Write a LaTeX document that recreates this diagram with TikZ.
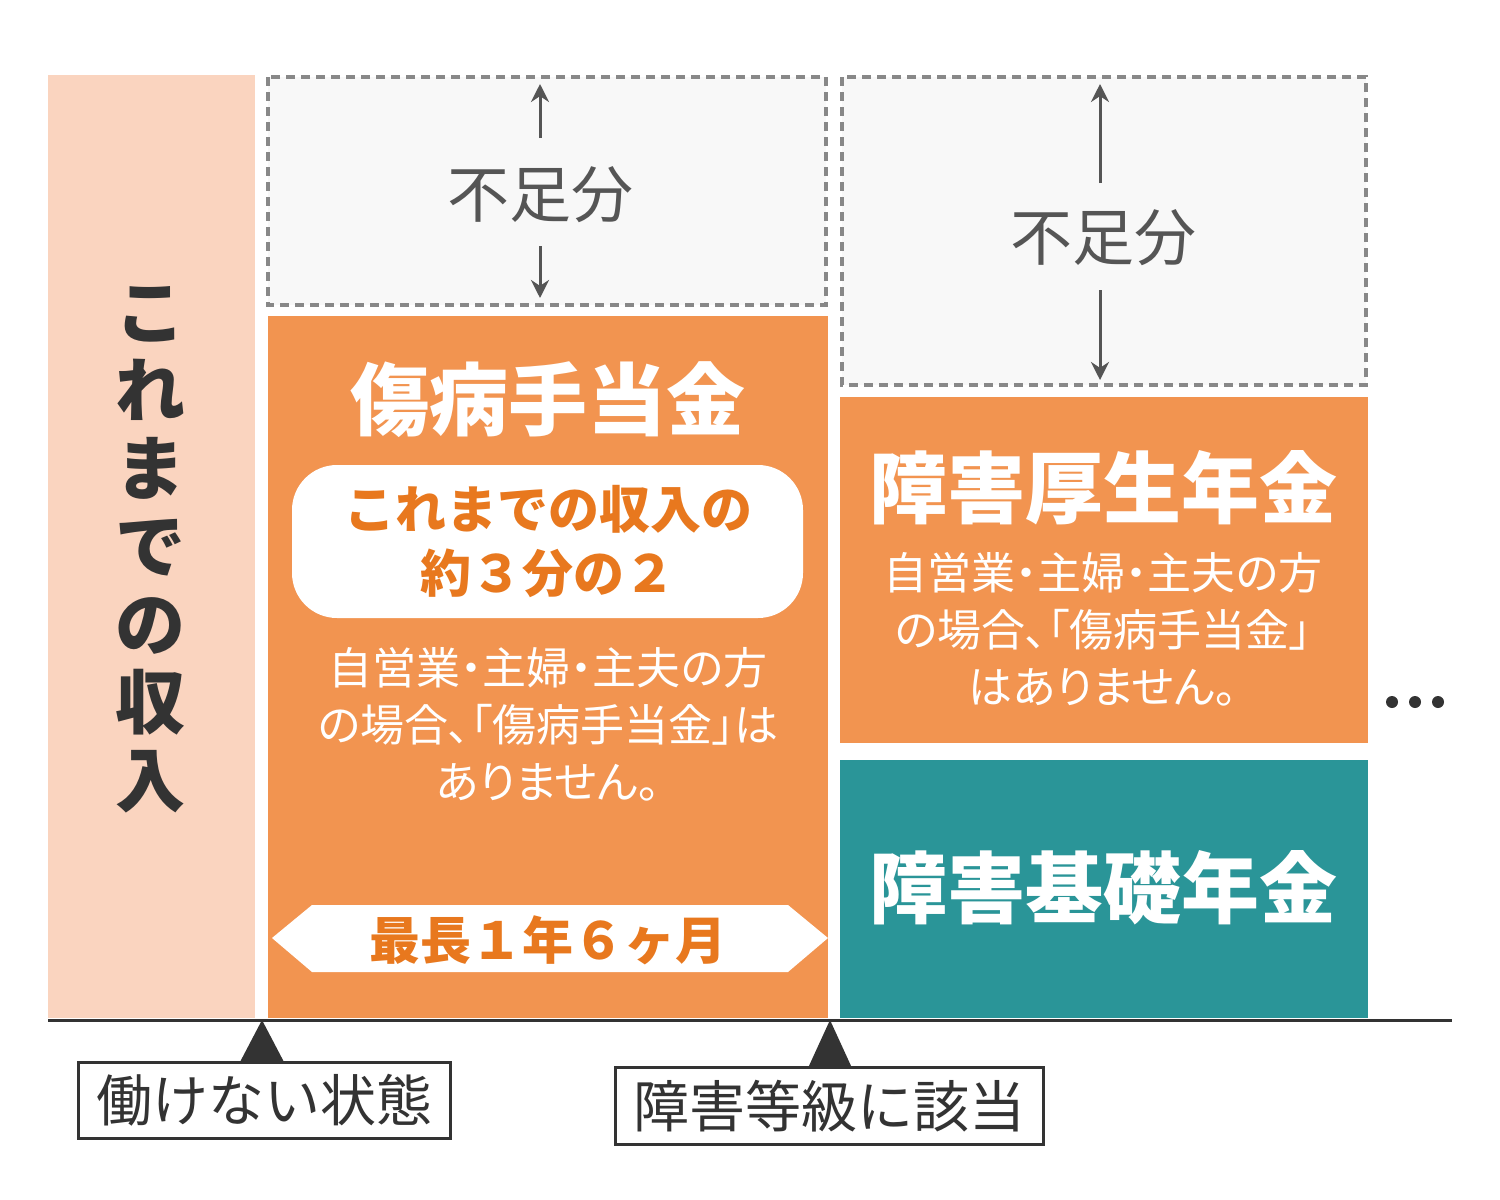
\documentclass[tikz,border=0pt]{standalone}
\usepackage{fontspec}
\setmainfont{Noto Sans CJK JP}
\newfontfamily\paltfont[RawFeature=+palt]{Noto Sans CJK JP}
\usetikzlibrary{arrows.meta}
\definecolor{pinkc}{HTML}{FAD4BF}
\definecolor{orng}{HTML}{F29450}
\definecolor{orngt}{HTML}{E8781E}
\definecolor{tealc}{HTML}{2A9598}
\definecolor{dark}{HTML}{333333}
\definecolor{grayt}{HTML}{555555}
\definecolor{bgg}{HTML}{F8F8F8}
\definecolor{dashc}{HTML}{888888}
\tikzset{
 dbox/.style={draw=dashc,dash pattern=on 9pt off 6pt,line width=3.2pt,fill=bgg},
 fs/.style 2 args={font=\fontsize{#1}{#2}\selectfont},
 pfs/.style 2 args={font=\paltfont\fontsize{#1}{#2}\selectfont},
 arr/.style={-{Stealth[length=18pt,width=18pt]},line width=3pt,draw=grayt},
 lbl/.style={draw=dark,line width=3pt,fill=white,text=dark,inner sep=0pt}
}
\begin{document}
\begin{tikzpicture}[x=1pt,y=-1pt]
\useasboundingbox (0,0) rectangle (1500,1200);
\fill[white] (0,0) rectangle (1500,1200);
% left
\fill[pinkc] (48,75) rectangle (255,1018);
\node[text=dark,align=center,font=\bfseries\fontsize{70}{78}\selectfont] (v) at (150,550) {こ\\れ\\ま\\で\\の\\収\\入};
% dashed boxes
\draw[dbox] (268,77) rectangle (826,305);
\node[text=grayt,fs={62}{70}] (f1) at (540,195) {不足分};
\coordinate (f1t) at (540,84); \coordinate (f1b) at (540,298);
\draw[arr] (540,138) -- (f1t); \draw[arr] (540,246) -- (f1b);
\draw[dbox] (842,77) rectangle (1366,385);
\node[text=grayt,fs={62}{70}] (f2) at (1103,238) {不足分};
\coordinate (f2t) at (1100,84); \coordinate (f2b) at (1100,380);
\draw[arr] (1100,183) -- (f2t); \draw[arr] (1100,290) -- (f2b);
% orange 1
\fill[orng] (268,316) rectangle (828,1018);
\node[text=white,font=\bfseries\fontsize{79}{90}\selectfont] (t1) at (548,400) {傷病手当金};
\fill[white,rounded corners=45pt] (292,465) rectangle (803,618);
\node[text=orngt,align=center,font=\bfseries\fontsize{51}{64}\selectfont] (r1) at (548,542) {これまでの収入の\\約３分の２};
\node[text=white,align=center,pfs={44}{57}] (s1) at (548,724) {自営業・主婦・主夫の方\\の場合、「傷病手当金」は\\ありません。};
\fill[white] (272,938) -- (312,905) -- (788,905) -- (828,938) -- (788,972) -- (312,972) -- cycle;
\node[text=orngt,font=\bfseries\fontsize{51}{56}\selectfont] (b1) at (548,940) {最長１年６ヶ月};
% orange 2
\fill[orng] (840,397) rectangle (1368,743);
\node[text=white,font=\bfseries\fontsize{78}{90}\selectfont] (t2) at (1103,488) {障害厚生年金};
\node[text=white,align=center,pfs={44}{57}] (s2) at (1103,629) {自営業・主婦・主夫の方\\の場合、「傷病手当金」\\はありません。};
% teal
\fill[tealc] (840,760) rectangle (1368,1018);
\node[text=white,font=\bfseries\fontsize{78}{90}\selectfont] (t3) at (1103,888) {障害基礎年金};
% dots
\foreach \x in {1392,1415,1438} \fill[dark] (\x,702) circle (6pt);
% baseline
\draw[dark,line width=3pt] (48,1020) -- (1452,1020);
\fill[dark] (262,1020) -- (240,1062) -- (284,1062) -- cycle;
\fill[dark] (830,1020) -- (808,1068) -- (852,1068) -- cycle;
\node[lbl,minimum width=372pt,minimum height=76pt,fs={56}{60}] (l1) at (264,1100) {働けない状態};
\node[lbl,minimum width=428pt,minimum height=77pt,fs={56}{60}] (l2) at (829,1106) {障害等級に該当};
\end{tikzpicture}
\end{document}
